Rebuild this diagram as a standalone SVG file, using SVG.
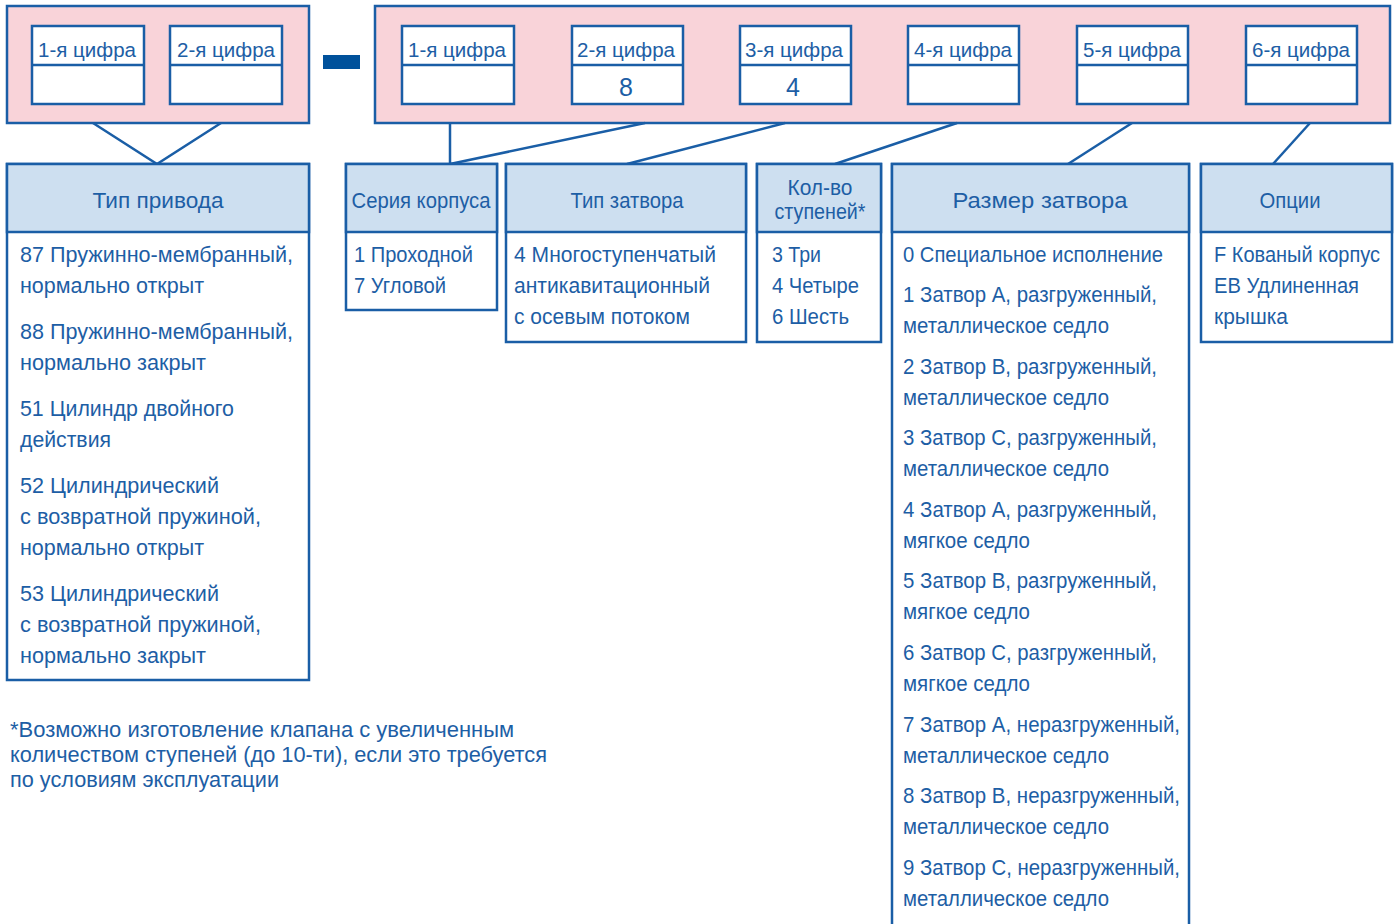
<svg xmlns="http://www.w3.org/2000/svg" width="1399" height="924" viewBox="0 0 1399 924">
<style>
.pink{fill:#f9d3d9;stroke:#1a5ea6;stroke-width:2.5}
.dig{fill:#ffffff;stroke:#1a5ea6;stroke-width:2.5}
.hdr{fill:#cddff0;stroke:#1a5ea6;stroke-width:2.5}
.box{fill:#ffffff;stroke:#1a5ea6;stroke-width:2.5}
.ln{stroke:#1a5ea6;stroke-width:2.5;fill:none}
text{font-family:"Liberation Sans",Arial,sans-serif;fill:#1d5ea5}
.dl{font-size:20.5px;text-anchor:middle}
.dv{font-size:25px;text-anchor:middle}
.h{font-size:22.5px;text-anchor:middle}
.b{font-size:22.5px}
.f{font-size:22px}
</style>
<rect x="0" y="0" width="1399" height="924" fill="#ffffff"/>
<g id="code-left">
<rect class="pink" x="7" y="6" width="302" height="117"/>
<rect class="dig" x="32" y="26" width="112" height="78"/>
<line class="ln" x1="32" y1="65" x2="144" y2="65"/>
<text class="dl" x="87" y="57">1-я цифра</text>
<rect class="dig" x="170" y="26" width="112" height="78"/>
<line class="ln" x1="170" y1="65" x2="282" y2="65"/>
<text class="dl" x="226" y="57">2-я цифра</text>
</g>
<g id="dash"><rect x="323" y="55" width="37" height="14" fill="#00519b"/></g>
<g id="code-right">
<rect class="pink" x="375" y="6" width="1015" height="117"/>
<rect class="dig" x="402" y="26" width="112" height="78"/>
<line class="ln" x1="402" y1="65" x2="514" y2="65"/>
<text class="dl" x="457" y="57">1-я цифра</text>
<rect class="dig" x="572" y="26" width="111" height="78"/>
<line class="ln" x1="572" y1="65" x2="683" y2="65"/>
<text class="dl" x="626" y="57">2-я цифра</text>
<text class="dv" x="626" y="96">8</text>
<rect class="dig" x="740" y="26" width="111" height="78"/>
<line class="ln" x1="740" y1="65" x2="851" y2="65"/>
<text class="dl" x="794" y="57">3-я цифра</text>
<text class="dv" x="793" y="96">4</text>
<rect class="dig" x="908" y="26" width="111" height="78"/>
<line class="ln" x1="908" y1="65" x2="1019" y2="65"/>
<text class="dl" x="963" y="57">4-я цифра</text>
<rect class="dig" x="1077" y="26" width="111" height="78"/>
<line class="ln" x1="1077" y1="65" x2="1188" y2="65"/>
<text class="dl" x="1132" y="57">5-я цифра</text>
<rect class="dig" x="1246" y="26" width="111" height="78"/>
<line class="ln" x1="1246" y1="65" x2="1357" y2="65"/>
<text class="dl" x="1301" y="57">6-я цифра</text>
</g>
<g id="connectors">
<polyline class="ln" points="93,123 157,164 221,123"/>
<line class="ln" x1="450" y1="123" x2="450" y2="164"/>
<line class="ln" x1="645" y1="123" x2="450" y2="164"/>
<line class="ln" x1="785" y1="123" x2="627" y2="164"/>
<line class="ln" x1="957" y1="123" x2="835" y2="164"/>
<line class="ln" x1="1132" y1="123" x2="1068" y2="164"/>
<line class="ln" x1="1310" y1="123" x2="1273" y2="164"/>
</g>
<g id="tip-privoda">
<rect class="box" x="7" y="164" width="302" height="516"/>
<rect class="hdr" x="7" y="164" width="302" height="68"/>
<text class="h" x="158" y="208" textLength="131" lengthAdjust="spacingAndGlyphs">Тип привода</text>
<text class="b" x="20" y="262" textLength="273" lengthAdjust="spacingAndGlyphs">87 Пружинно-мембранный,</text>
<text class="b" x="20" y="293" textLength="184" lengthAdjust="spacingAndGlyphs">нормально открыт</text>
<text class="b" x="20" y="339" textLength="273" lengthAdjust="spacingAndGlyphs">88 Пружинно-мембранный,</text>
<text class="b" x="20" y="370" textLength="186" lengthAdjust="spacingAndGlyphs">нормально закрыт</text>
<text class="b" x="20" y="416" textLength="214" lengthAdjust="spacingAndGlyphs">51 Цилиндр двойного</text>
<text class="b" x="20" y="447" textLength="91" lengthAdjust="spacingAndGlyphs">действия</text>
<text class="b" x="20" y="493" textLength="199" lengthAdjust="spacingAndGlyphs">52 Цилиндрический</text>
<text class="b" x="20" y="524" textLength="241" lengthAdjust="spacingAndGlyphs">с возвратной пружиной,</text>
<text class="b" x="20" y="555" textLength="184" lengthAdjust="spacingAndGlyphs">нормально открыт</text>
<text class="b" x="20" y="601" textLength="199" lengthAdjust="spacingAndGlyphs">53 Цилиндрический</text>
<text class="b" x="20" y="632" textLength="241" lengthAdjust="spacingAndGlyphs">с возвратной пружиной,</text>
<text class="b" x="20" y="663" textLength="186" lengthAdjust="spacingAndGlyphs">нормально закрыт</text>
</g>
<g id="seriya">
<rect class="box" x="346" y="164" width="151" height="146"/>
<rect class="hdr" x="346" y="164" width="151" height="68"/>
<text class="h" x="421" y="208" textLength="139" lengthAdjust="spacingAndGlyphs">Серия корпуса</text>
<text class="b" x="354" y="262" textLength="119" lengthAdjust="spacingAndGlyphs">1 Проходной</text>
<text class="b" x="354" y="293" textLength="92" lengthAdjust="spacingAndGlyphs">7 Угловой</text>
</g>
<g id="tip-zatvora">
<rect class="box" x="506" y="164" width="240" height="178"/>
<rect class="hdr" x="506" y="164" width="240" height="68"/>
<text class="h" x="627" y="208" textLength="113" lengthAdjust="spacingAndGlyphs">Тип затвора</text>
<text class="b" x="514" y="262" textLength="202" lengthAdjust="spacingAndGlyphs">4 Многоступенчатый</text>
<text class="b" x="514" y="293" textLength="196" lengthAdjust="spacingAndGlyphs">антикавитационный</text>
<text class="b" x="514" y="324" textLength="176" lengthAdjust="spacingAndGlyphs">с осевым потоком</text>
</g>
<g id="stupeni">
<rect class="box" x="757" y="164" width="124" height="178"/>
<rect class="hdr" x="757" y="164" width="124" height="68"/>
<text class="h" x="820" y="195" textLength="65" lengthAdjust="spacingAndGlyphs">Кол-во</text>
<text class="h" x="820" y="219" textLength="91" lengthAdjust="spacingAndGlyphs">ступеней*</text>
<text class="b" x="772" y="262" textLength="49" lengthAdjust="spacingAndGlyphs">3 Три</text>
<text class="b" x="772" y="293" textLength="87" lengthAdjust="spacingAndGlyphs">4 Четыре</text>
<text class="b" x="772" y="324" textLength="77" lengthAdjust="spacingAndGlyphs">6 Шесть</text>
</g>
<g id="razmer">
<rect class="box" x="892" y="164" width="297" height="770"/>
<rect class="hdr" x="892" y="164" width="297" height="68"/>
<text class="h" x="1040" y="208" textLength="175" lengthAdjust="spacingAndGlyphs">Размер затвора</text>
<text class="b" x="903" y="262" textLength="260" lengthAdjust="spacingAndGlyphs">0 Специальное исполнение</text>
<text class="b" x="903" y="302" textLength="254" lengthAdjust="spacingAndGlyphs">1 Затвор A, разгруженный,</text>
<text class="b" x="903" y="333" textLength="206" lengthAdjust="spacingAndGlyphs">металлическое седло</text>
<text class="b" x="903" y="374" textLength="254" lengthAdjust="spacingAndGlyphs">2 Затвор B, разгруженный,</text>
<text class="b" x="903" y="405" textLength="206" lengthAdjust="spacingAndGlyphs">металлическое седло</text>
<text class="b" x="903" y="445" textLength="254" lengthAdjust="spacingAndGlyphs">3 Затвор C, разгруженный,</text>
<text class="b" x="903" y="476" textLength="206" lengthAdjust="spacingAndGlyphs">металлическое седло</text>
<text class="b" x="903" y="517" textLength="254" lengthAdjust="spacingAndGlyphs">4 Затвор A, разгруженный,</text>
<text class="b" x="903" y="548" textLength="127" lengthAdjust="spacingAndGlyphs">мягкое седло</text>
<text class="b" x="903" y="588" textLength="254" lengthAdjust="spacingAndGlyphs">5 Затвор B, разгруженный,</text>
<text class="b" x="903" y="619" textLength="127" lengthAdjust="spacingAndGlyphs">мягкое седло</text>
<text class="b" x="903" y="660" textLength="254" lengthAdjust="spacingAndGlyphs">6 Затвор C, разгруженный,</text>
<text class="b" x="903" y="691" textLength="127" lengthAdjust="spacingAndGlyphs">мягкое седло</text>
<text class="b" x="903" y="732" textLength="277" lengthAdjust="spacingAndGlyphs">7 Затвор A, неразгруженный,</text>
<text class="b" x="903" y="763" textLength="206" lengthAdjust="spacingAndGlyphs">металлическое седло</text>
<text class="b" x="903" y="803" textLength="277" lengthAdjust="spacingAndGlyphs">8 Затвор B, неразгруженный,</text>
<text class="b" x="903" y="834" textLength="206" lengthAdjust="spacingAndGlyphs">металлическое седло</text>
<text class="b" x="903" y="875" textLength="277" lengthAdjust="spacingAndGlyphs">9 Затвор C, неразгруженный,</text>
<text class="b" x="903" y="906" textLength="206" lengthAdjust="spacingAndGlyphs">металлическое седло</text>
</g>
<g id="opcii">
<rect class="box" x="1201" y="164" width="191" height="178"/>
<rect class="hdr" x="1201" y="164" width="191" height="68"/>
<text class="h" x="1290" y="208" textLength="61" lengthAdjust="spacingAndGlyphs">Опции</text>
<text class="b" x="1214" y="262" textLength="166" lengthAdjust="spacingAndGlyphs">F Кованый корпус</text>
<text class="b" x="1214" y="293" textLength="145" lengthAdjust="spacingAndGlyphs">EB Удлиненная</text>
<text class="b" x="1214" y="324" textLength="74" lengthAdjust="spacingAndGlyphs">крышка</text>
</g>
<g id="footnote">
<text class="f" x="10" y="737" textLength="504" lengthAdjust="spacingAndGlyphs">*Возможно изготовление клапана с увеличенным</text>
<text class="f" x="10" y="762" textLength="537" lengthAdjust="spacingAndGlyphs">количеством ступеней (до 10-ти), если это требуется</text>
<text class="f" x="10" y="787" textLength="269" lengthAdjust="spacingAndGlyphs">по условиям эксплуатации</text>
</g>
</svg>
